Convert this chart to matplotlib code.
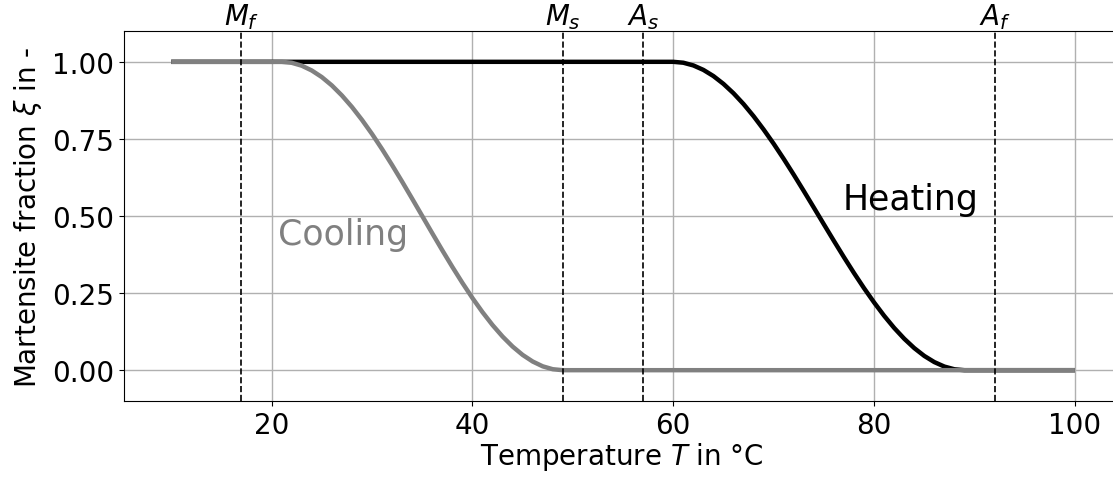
import numpy as np
import matplotlib
matplotlib.use('Agg')
import matplotlib.pyplot as plt

# cooling curve (martensite fraction vs temperature)
T_cool = [10, 21, 22, 23, 24, 25, 26, 27, 28, 29, 30, 31, 32, 33, 34, 35,
          36, 37, 38, 39, 40, 41, 42, 43, 44, 45, 46, 47, 48, 49, 100]
xi_cool = [1.0, 1.0, 0.9969, 0.9875, 0.9719, 0.9505, 0.9234, 0.8909, 0.8536,
           0.8117, 0.7660, 0.7169, 0.6651, 0.6113, 0.5560, 0.5000, 0.4440,
           0.3887, 0.3349, 0.2831, 0.2340, 0.1883, 0.1464, 0.1091, 0.0766,
           0.0495, 0.0281, 0.0125, 0.0031, 0.0, 0.0]

# heating curve
T_heat = [10, 60, 61, 62, 63, 64, 65, 66, 67, 68, 69, 70, 71, 72, 73, 74, 75,
          76, 77, 78, 79, 80, 81, 82, 83, 84, 85, 86, 87, 88, 89, 100]
xi_heat = [1.0, 1.0, 0.9971, 0.9883, 0.9738, 0.9538, 0.9284, 0.8980, 0.8630,
           0.8236, 0.7804, 0.7342, 0.6851, 0.6338, 0.5809, 0.5271, 0.4729,
           0.4191, 0.3662, 0.3149, 0.2658, 0.2196, 0.1764, 0.1370, 0.1020,
           0.0716, 0.0462, 0.0262, 0.0117, 0.0029, 0.0, 0.0]

# transformation temperatures
trans_names = ['$M_f$', '$M_s$', '$A_s$', '$A_f$']
trans_T = [17, 49, 57, 92]

fs = 20

fig = plt.figure(figsize=(11.13, 4.81), dpi=100)
# right spine sits just outside the picture, as in the reference
ax = fig.add_axes([0.1114, 0.1642, 0.895, 0.7693])

ax.grid(True, color='#b0b0b0', lw=1.0)
ax.set_axisbelow(True)

ax.plot(T_heat, xi_heat, color='black', lw=3.2, solid_capstyle='butt')
ax.plot(T_cool, xi_cool, color='gray', lw=3.2, solid_capstyle='butt')

for name, t in zip(trans_names, trans_T):
    ax.axvline(t, color='black', ls='--', lw=1.2)
    ax.text(t, 1.1, name, ha='center', va='bottom', fontsize=fs, clip_on=False)

ax.text(20.6, 0.41, 'Cooling', color='gray', fontsize=25, ha='left', va='baseline')
ax.text(76.9, 0.523, 'Heating', color='black', fontsize=25, ha='left', va='baseline')

ax.set_xlim(5.3, 104.5)
ax.set_ylim(-0.1, 1.1)
ax.set_xticks([20, 40, 60, 80, 100])
ax.set_yticks([0, 0.25, 0.5, 0.75, 1.0])
ax.set_yticklabels(['0.00', '0.25', '0.50', '0.75', '1.00'])
ax.tick_params(labelsize=fs)
ax.set_xlabel('Temperature $T$ in °C', fontsize=fs, labelpad=1)
ax.set_ylabel(r'Martensite fraction $\xi$ in -', fontsize=fs, labelpad=6)

fig.savefig('out.png', dpi=100)
